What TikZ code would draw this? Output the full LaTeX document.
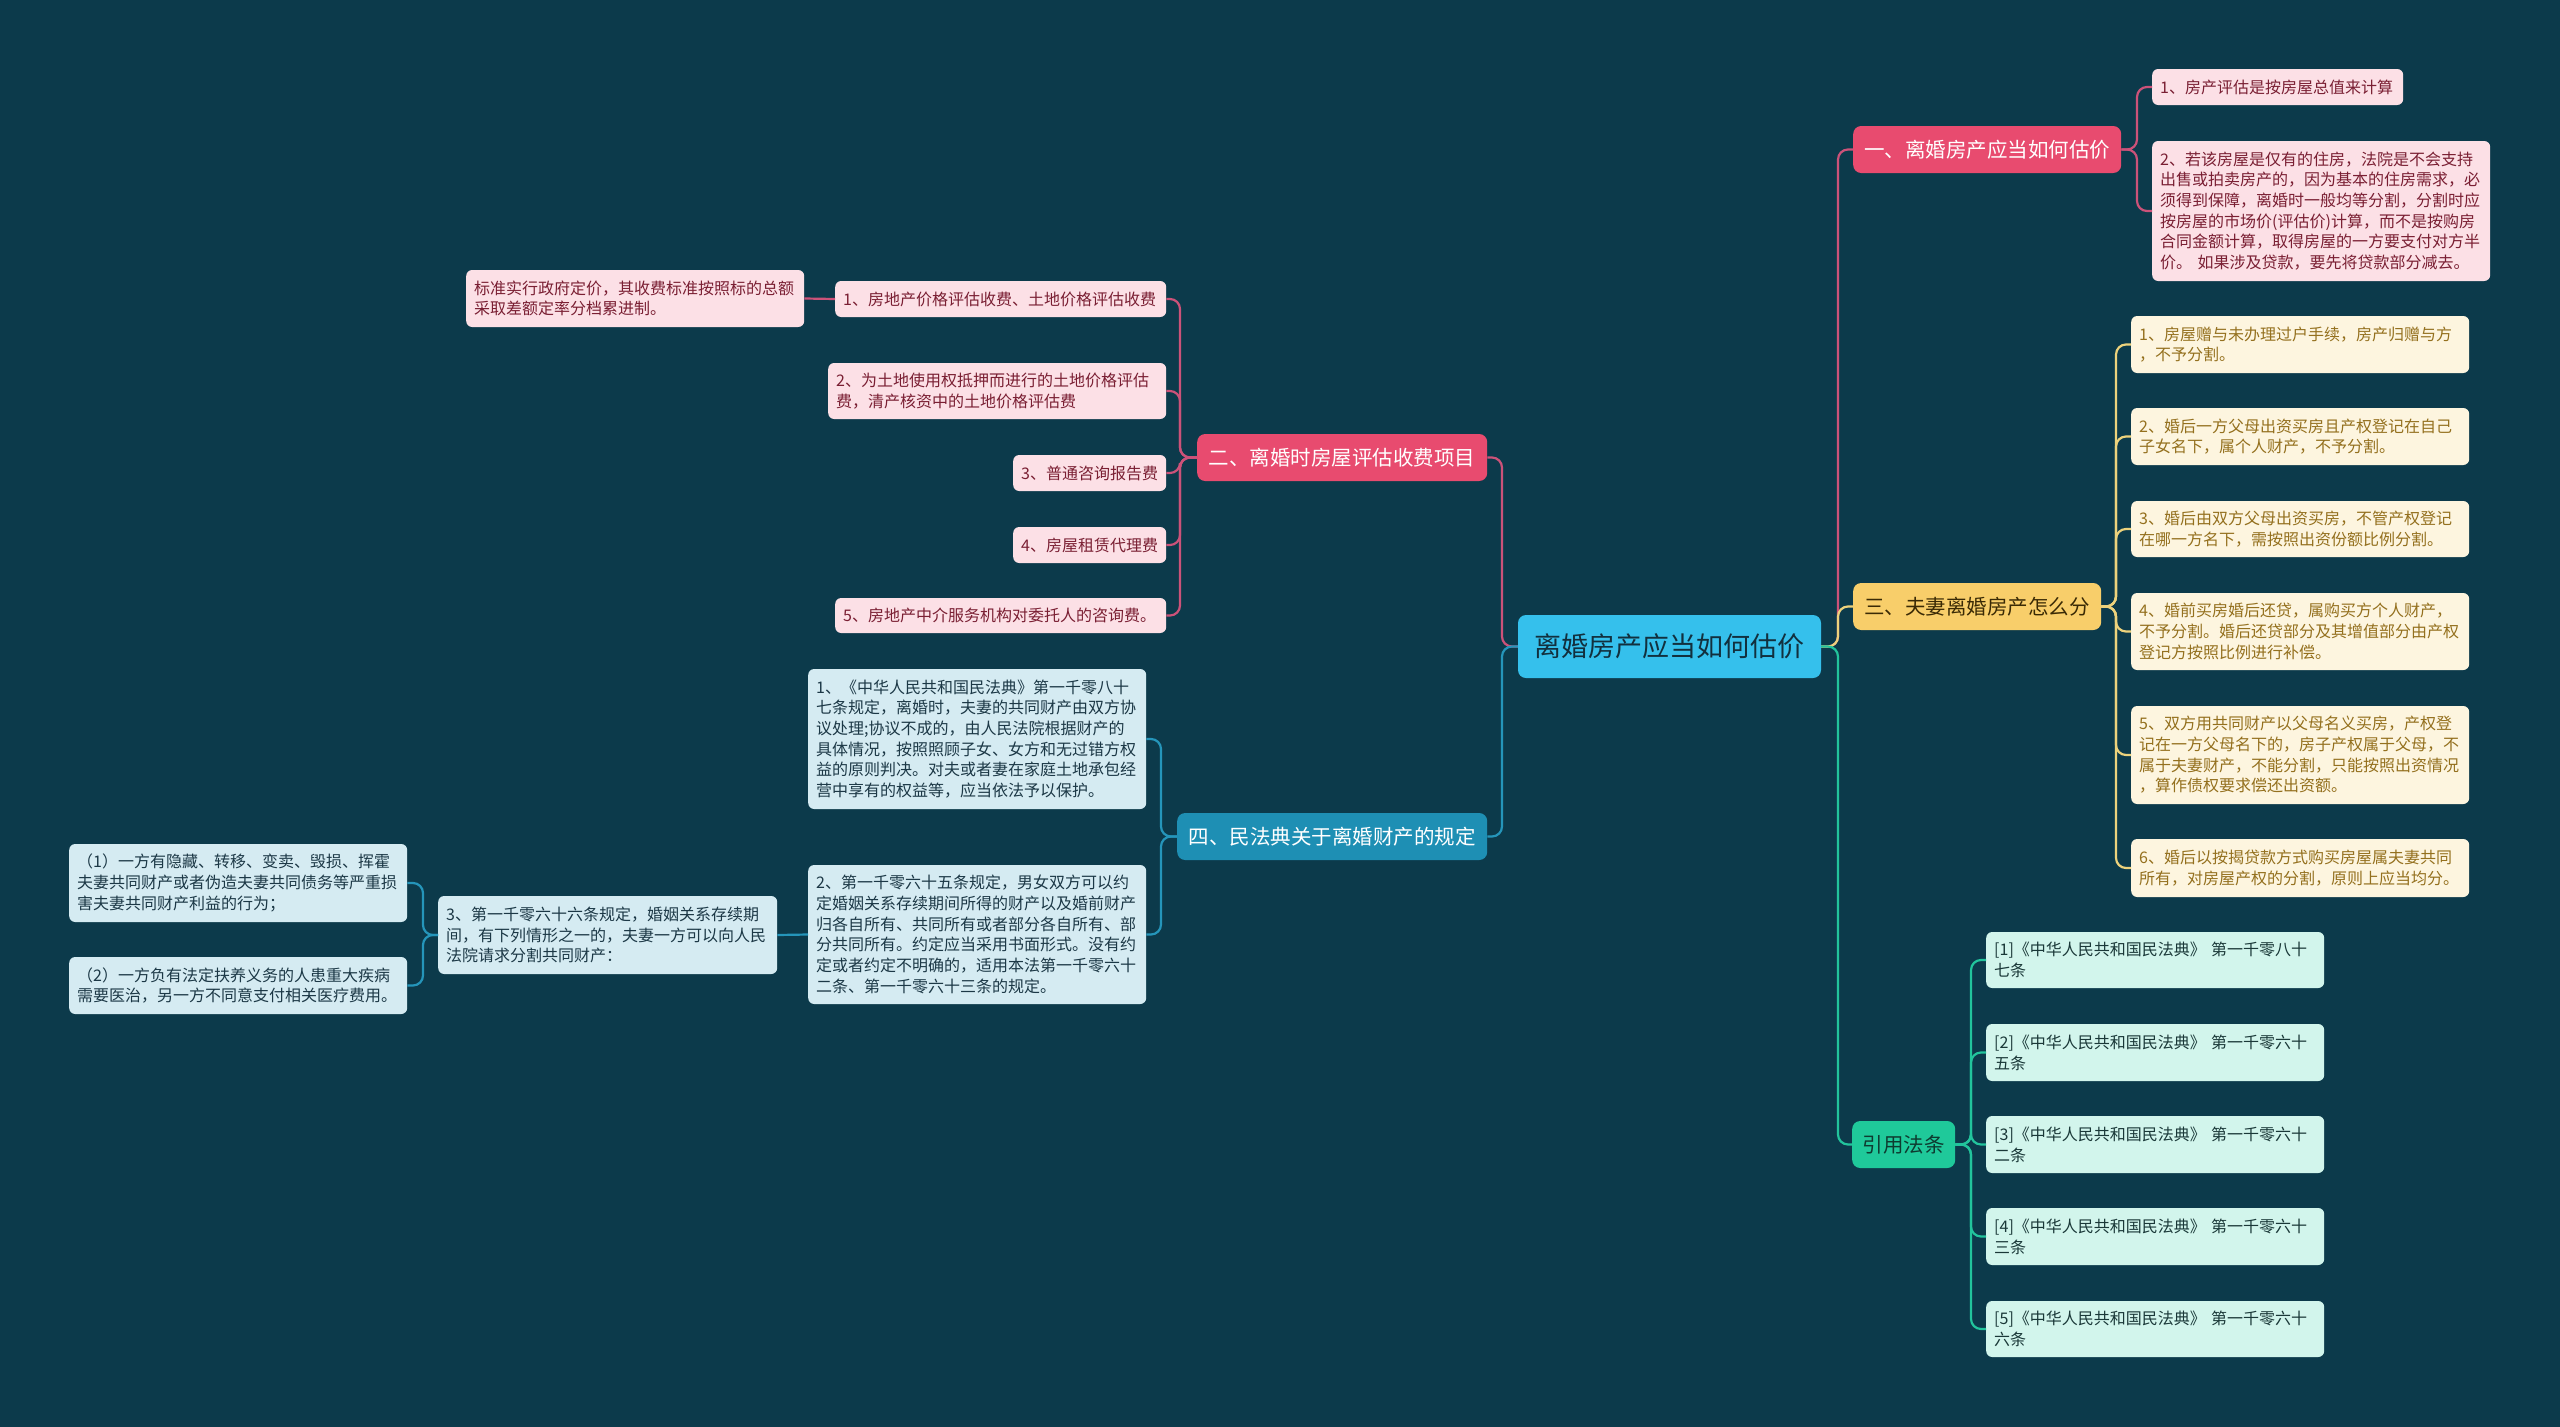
\documentclass[tikz,border=0pt]{standalone}
\usepackage{fontspec}
\newfontfamily\cjk{Noto Sans CJK SC}
\definecolor{bg}{HTML}{0C3A4B}
\definecolor{rootfill}{HTML}{35C0EC}
\definecolor{roottext}{HTML}{12303E}
\definecolor{pinkfill}{HTML}{E84B6F}
\definecolor{pinkleaf}{HTML}{FCE0E6}
\definecolor{pinktext}{HTML}{7A1F33}
\definecolor{pinkline}{HTML}{CC5279}
\definecolor{yelfill}{HTML}{F8CE6A}
\definecolor{yeltext}{HTML}{3A2A05}
\definecolor{yelleaf}{HTML}{FDF5DF}
\definecolor{yelleaftext}{HTML}{94701E}
\definecolor{yelline}{HTML}{EDD27C}
\definecolor{bluefill}{HTML}{1E8FB4}
\definecolor{blueleaf}{HTML}{D5EBF2}
\definecolor{blueleaftext}{HTML}{1C3846}
\definecolor{blueline}{HTML}{2595BA}
\definecolor{grnfill}{HTML}{1FC99A}
\definecolor{grntext}{HTML}{0E3B30}
\definecolor{grnleaf}{HTML}{D2F5EC}
\definecolor{grnleaftext}{HTML}{1A3838}
\definecolor{grnline}{HTML}{22C49C}
\begin{document}
\begin{tikzpicture}[x=1pt,y=-1pt,
  leaf/.style={rounded corners=6pt, inner xsep=8pt, inner ysep=0pt, anchor=west, align=left, font=\cjk\fontsize{16}{20.7}\selectfont},
  pleaf/.style={leaf, fill=pinkleaf, text=pinktext},
  yleaf/.style={leaf, fill=yelleaf, text=yelleaftext},
  bleaf/.style={leaf, fill=blueleaf, text=blueleaftext},
  gleaf/.style={leaf, fill=grnleaf, text=grnleaftext},
  branch/.style={rounded corners=8pt, inner sep=0pt, anchor=west, align=center, font=\cjk\fontsize{20.5}{24}\selectfont},
  conn/.style={line width=2.2pt, rounded corners=10pt},
]
\fill[bg] (0,0) rectangle (2560,1427);
\useasboundingbox (0,0) rectangle (2560,1427);

% trunk coordinates
\coordinate (tl) at (1502,0);
\coordinate (tr) at (1838,0);
\coordinate (t1) at (2137,0);
\coordinate (t3) at (2116,0);
\coordinate (t5) at (1971,0);
\coordinate (t2) at (1180,0);
\coordinate (t4) at (1161,0);
\coordinate (t6) at (423,0);

% root
\node[rounded corners=8pt, fill=rootfill, text=roottext, inner sep=0pt, minimum width=303pt, minimum height=63pt, font=\cjk\fontsize{27}{30}\selectfont] (root) at (1669.5,646.5) {离婚房产应当如何估价};

% branch 1
\node[branch, fill=pinkfill, text=white, minimum width=268pt, minimum height=47pt] (b1) at (1853,149.5) {一、离婚房产应当如何估价};
\node[pleaf, text width=235pt, minimum height=36pt] (b1c1) at (2152,87) {1、房产评估是按房屋总值来计算};
\node[pleaf, text width=322pt, minimum height=140pt] (b1c2) at (2152,211) {2、若该房屋是仅有的住房，法院是不会支持\\出售或拍卖房产的，因为基本的住房需求，必\\须得到保障，离婚时一般均等分割，分割时应\\按房屋的市场价(评估价)计算，而不是按购房\\合同金额计算，取得房屋的一方要支付对方半\\价。 如果涉及贷款，要先将贷款部分减去。};

% branch 3
\node[branch, fill=yelfill, text=yeltext, minimum width=248pt, minimum height=47pt] (b3) at (1853,606.5) {三、夫妻离婚房产怎么分};
\node[yleaf, text width=322pt, minimum height=57pt] (b3c1) at (2131,344.5) {1、房屋赠与未办理过户手续，房产归赠与方\\，不予分割。};
\node[yleaf, text width=322pt, minimum height=57pt] (b3c2) at (2131,436.5) {2、婚后一方父母出资买房且产权登记在自己\\子女名下，属个人财产，不予分割。};
\node[yleaf, text width=322pt, minimum height=56pt] (b3c3) at (2131,529) {3、婚后由双方父母出资买房，不管产权登记\\在哪一方名下，需按照出资份额比例分割。};
\node[yleaf, text width=322pt, minimum height=77pt] (b3c4) at (2131,631.5) {4、婚前买房婚后还贷，属购买方个人财产，\\不予分割。婚后还贷部分及其增值部分由产权\\登记方按照比例进行补偿。};
\node[yleaf, text width=322pt, minimum height=98pt] (b3c5) at (2131,755) {5、双方用共同财产以父母名义买房，产权登\\记在一方父母名下的，房子产权属于父母，不\\属于夫妻财产，不能分割，只能按照出资情况\\，算作债权要求偿还出资额。};
\node[yleaf, text width=322pt, minimum height=58pt] (b3c6) at (2131,868) {6、婚后以按揭贷款方式购买房屋属夫妻共同\\所有，对房屋产权的分割，原则上应当均分。};

% branch 5 (citations)
\node[branch, fill=grnfill, text=grntext, minimum width=103pt, minimum height=47pt] (b5) at (1852,1144.5) {引用法条};
\node[gleaf, text width=322pt, minimum height=56pt] (b5c1) at (1986,960) {[1]《中华人民共和国民法典》 第一千零八十\\七条};
\node[gleaf, text width=322pt, minimum height=57pt] (b5c2) at (1986,1052.5) {[2]《中华人民共和国民法典》 第一千零六十\\五条};
\node[gleaf, text width=322pt, minimum height=57pt] (b5c3) at (1986,1144.5) {[3]《中华人民共和国民法典》 第一千零六十\\二条};
\node[gleaf, text width=322pt, minimum height=57pt] (b5c4) at (1986,1236.5) {[4]《中华人民共和国民法典》 第一千零六十\\三条};
\node[gleaf, text width=322pt, minimum height=56pt] (b5c5) at (1986,1329) {[5]《中华人民共和国民法典》 第一千零六十\\六条};

% branch 2
\node[branch, fill=pinkfill, text=white, minimum width=290pt, minimum height=47pt] (b2) at (1197,457.5) {二、离婚时房屋评估收费项目};
\node[pleaf, text width=315pt, minimum height=36pt] (b2c1) at (835,299) {1、房地产价格评估收费、土地价格评估收费};
\node[pleaf, text width=322pt, minimum height=56pt] (b2c2) at (828,391) {2、为土地使用权抵押而进行的土地价格评估\\费，清产核资中的土地价格评估费};
\node[pleaf, text width=137pt, minimum height=36pt] (b2c3) at (1013,473) {3、普通咨询报告费};
\node[pleaf, text width=137pt, minimum height=36pt] (b2c4) at (1013,545) {4、房屋租赁代理费};
\node[pleaf, text width=315pt, minimum height=35pt] (b2c5) at (835,615.5) {5、房地产中介服务机构对委托人的咨询费。};
\node[pleaf, text width=322pt, minimum height=57pt] (b2g1) at (466,298.5) {标准实行政府定价，其收费标准按照标的总额\\采取差额定率分档累进制。};

% branch 4
\node[branch, fill=bluefill, text=white, minimum width=310pt, minimum height=47pt] (b4) at (1177,836.5) {四、民法典关于离婚财产的规定};
\node[bleaf, text width=322pt, minimum height=140pt] (b4c1) at (808,739) {1、《中华人民共和国民法典》第一千零八十\\七条规定，离婚时，夫妻的共同财产由双方协\\议处理;协议不成的，由人民法院根据财产的\\具体情况，按照照顾子女、女方和无过错方权\\益的原则判决。对夫或者妻在家庭土地承包经\\营中享有的权益等，应当依法予以保护。};
\node[bleaf, text width=322pt, minimum height=139pt] (b4c2) at (808,934.5) {2、第一千零六十五条规定，男女双方可以约\\定婚姻关系存续期间所得的财产以及婚前财产\\归各自所有、共同所有或者部分各自所有、部\\分共同所有。约定应当采用书面形式。没有约\\定或者约定不明确的，适用本法第一千零六十\\二条、第一千零六十三条的规定。};
\node[bleaf, text width=323pt, minimum height=78pt] (b4g3) at (438,935) {3、第一千零六十六条规定，婚姻关系存续期\\间，有下列情形之一的，夫妻一方可以向人民\\法院请求分割共同财产：};
\node[bleaf, text width=322pt, minimum height=78pt] (b4h1) at (69,883) {（1）一方有隐藏、转移、变卖、毁损、挥霍\\夫妻共同财产或者伪造夫妻共同债务等严重损\\害夫妻共同财产利益的行为；};
\node[bleaf, text width=322pt, minimum height=57pt] (b4h2) at (69,985.5) {（2）一方负有法定扶养义务的人患重大疾病\\需要医治，另一方不同意支付相关医疗费用。};

% connectors: root to branches
\draw[conn, draw=pinkline] (root.east) -- (root.east -| tr) |- (b1.west);
\draw[conn, draw=yelline] (root.east) -- (root.east -| tr) |- (b3.west);
\draw[conn, draw=grnline] (root.east) -- (root.east -| tr) |- (b5.west);
\draw[conn, draw=pinkline] (root.west) -- (root.west -| tl) |- (b2.east);
\draw[conn, draw=blueline] (root.west) -- (root.west -| tl) |- (b4.east);

% branch 1
\foreach \c in {b1c1,b1c2} \draw[conn, draw=pinkline] (b1.east) -- (b1.east -| t1) |- (\c.west);
% branch 3
\foreach \c in {b3c1,b3c2,b3c3,b3c4,b3c5,b3c6} \draw[conn, draw=yelline] (b3.east) -- (b3.east -| t3) |- (\c.west);
% branch 5
\foreach \c in {b5c1,b5c2,b5c3,b5c4,b5c5} \draw[conn, draw=grnline] (b5.east) -- (b5.east -| t5) |- (\c.west);
% branch 2
\foreach \c in {b2c1,b2c2,b2c3,b2c4,b2c5} \draw[conn, draw=pinkline] (b2.west) -- (b2.west -| t2) |- (\c.east);
\draw[conn, draw=pinkline] (b2c1.west) -- (b2g1.east);
% branch 4
\foreach \c in {b4c1,b4c2} \draw[conn, draw=blueline] (b4.west) -- (b4.west -| t4) |- (\c.east);
\draw[conn, draw=blueline] (b4c2.west) -- (b4g3.east);
\foreach \c in {b4h1,b4h2} \draw[conn, draw=blueline] (b4g3.west) -- (b4g3.west -| t6) |- (\c.east);
\end{tikzpicture}
\end{document}
